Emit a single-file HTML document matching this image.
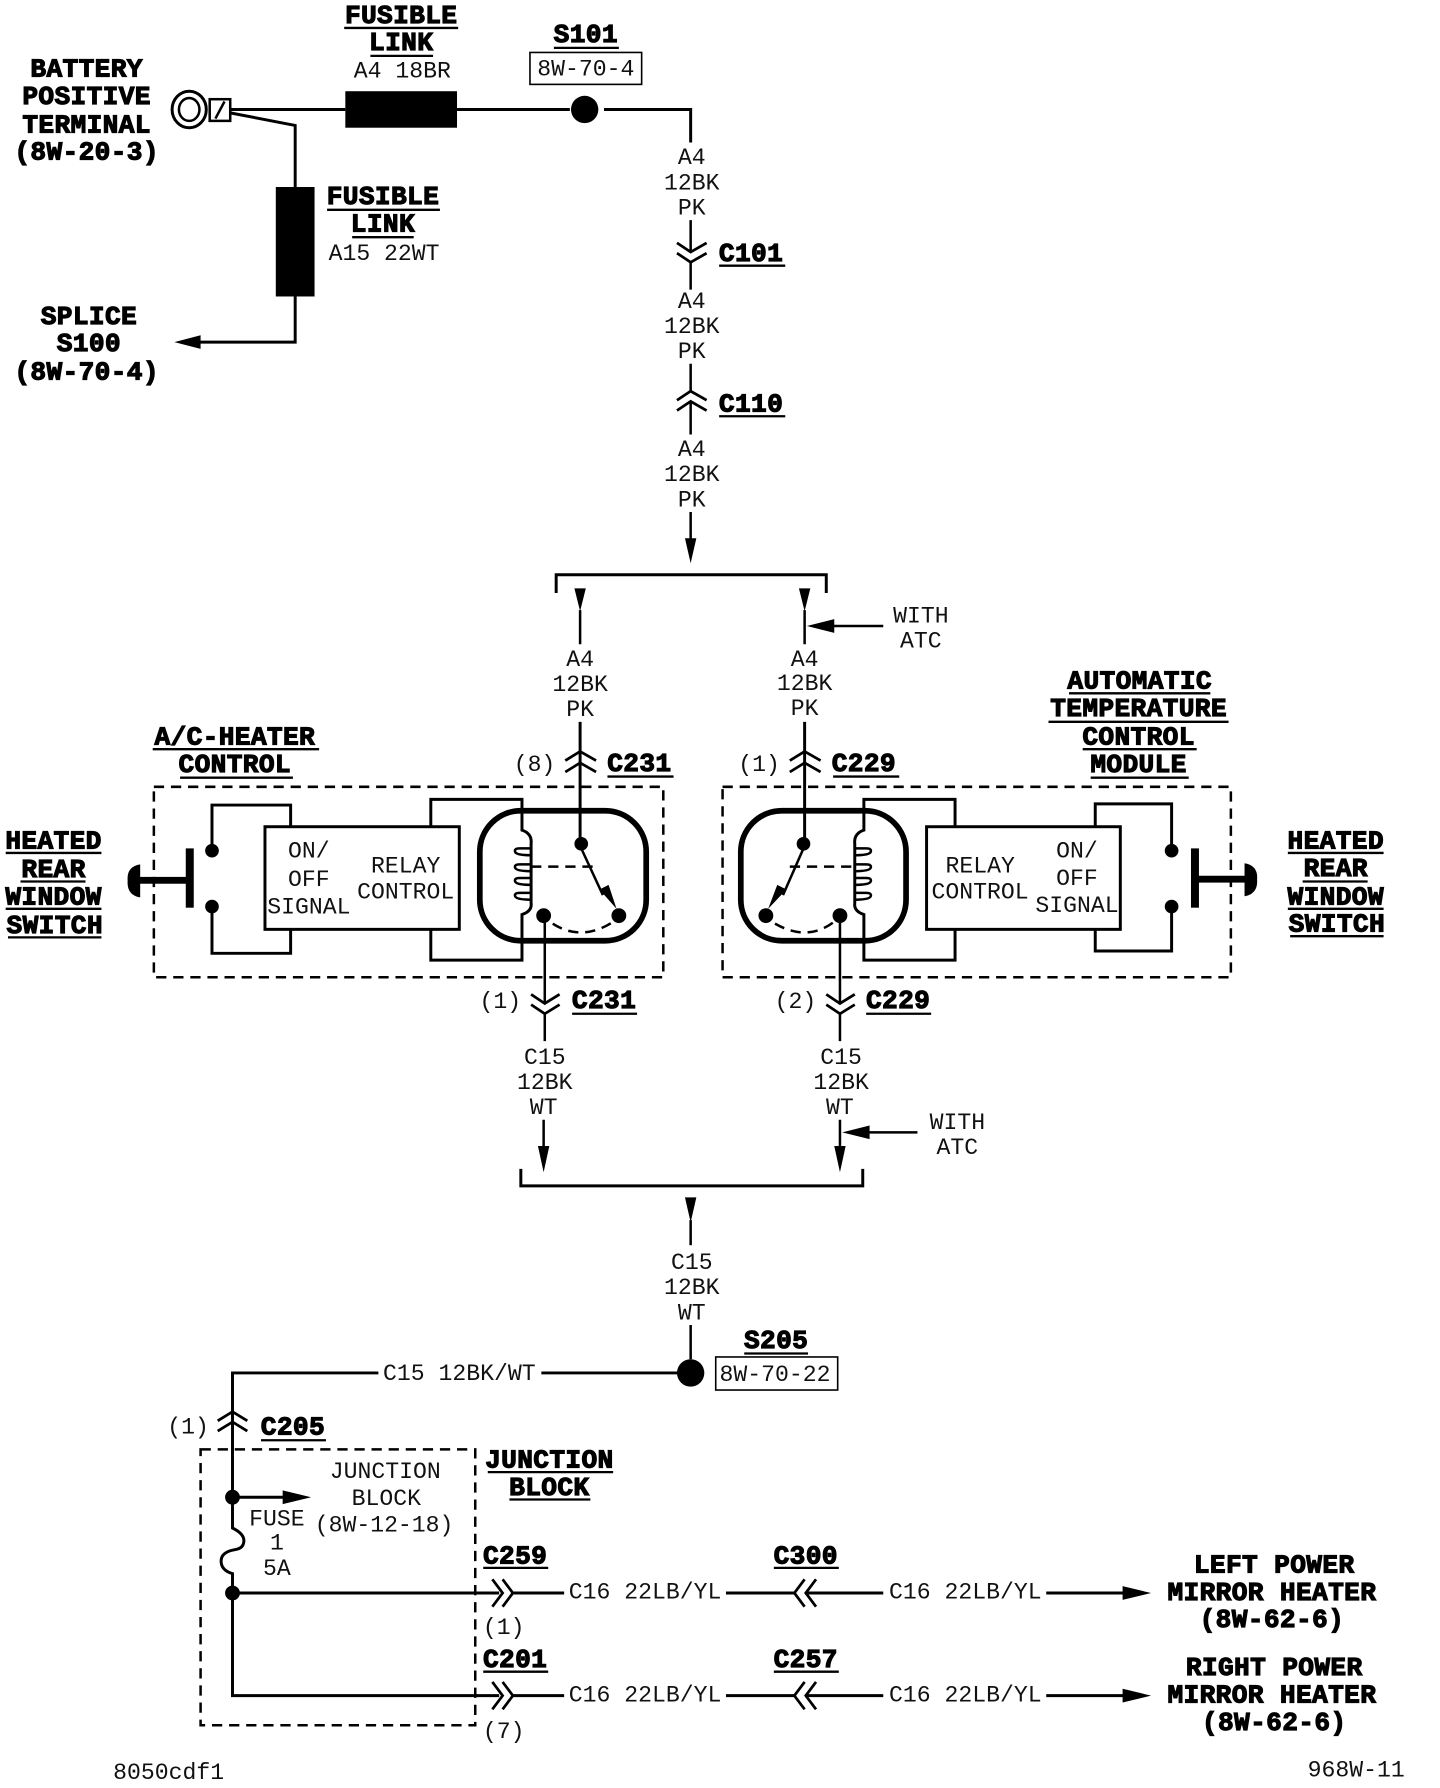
<!DOCTYPE html>
<html><head><meta charset="utf-8"><style>
html,body{margin:0;padding:0;background:#fff}
svg{display:block}
.t{font-family:"Liberation Mono",monospace;font-size:20.3px;text-anchor:middle;fill:#111;transform:translateY(-1px)}
.b{font-family:"Liberation Mono",monospace;font-weight:bold;font-size:23px;letter-spacing:.3px;text-anchor:middle;fill:#000;stroke:#000;stroke-width:1;transform:translateY(-1px)}
.w{fill:none;stroke:#000;stroke-width:2.2}
.h{fill:none;stroke:#000;stroke-width:2.6}
.u{stroke:#000;stroke-width:2}
.d{fill:none;stroke:#000;stroke-width:2.2;stroke-dasharray:9 6}
.c{fill:none;stroke:#000;stroke-width:2.4}
</style></head><body>
<svg width="1440" height="1788" viewBox="0 0 1263.5 1568" preserveAspectRatio="none" xmlns="http://www.w3.org/2000/svg">
<!-- top -->
<ellipse cx="166" cy="96" rx="15" ry="16" class="h"/><ellipse cx="166" cy="96" rx="9" ry="10" class="w"/>
<rect x="184" y="87" width="18" height="19" class="w"/><path d="M189 104L197 89" class="w"/>
<rect x="303" y="80" width="98" height="32" fill="#000"/>
<path d="M202 96H303M401 96H500M530 96H606V125" class="h"/>
<circle cx="513" cy="96" r="12" fill="#000"/>
<path d="M202 99L259 110V164M259 260V300H172" class="h"/>
<rect x="242" y="164" width="34" height="96" fill="#000"/>
<path d="M153 300L176 294V306Z" fill="#000"/>
<text class="b" x="76" y="68">BATTERY</text><text class="b" x="76" y="92">POSITIVE</text><text class="b" x="76" y="117">TERMINAL</text><text class="b" x="76" y="141">(8W-20-3)</text>
<text class="b" x="78" y="285">SPLICE</text><text class="b" x="78" y="309">S100</text><text class="b" x="76" y="334">(8W-70-4)</text>
<text class="b" x="352" y="21">FUSIBLE</text><line class="u" x1="302" x2="402" y1="24.500" y2="24.500"/><text class="b" x="352" y="45">LINK</text><line class="u" x1="325" x2="380" y1="49" y2="49"/><text class="t" x="353" y="69">A4 18BR</text>
<text class="b" x="514" y="38">S101</text><line class="u" x1="486" x2="543" y1="42" y2="42"/>
<rect x="465" y="46" width="98" height="28" fill="none" stroke="#000" stroke-width="1.4"/><text class="t" x="514" y="67">8W-70-4</text>
<text class="b" x="336" y="180">FUSIBLE</text><line class="u" x1="287" x2="386" y1="184" y2="184"/><text class="b" x="336" y="204">LINK</text><line class="u" x1="309" x2="363" y1="208" y2="208"/><text class="t" x="337" y="229">A15 22WT</text>
<!-- main vertical -->
<text class="t" x="607" y="145">A4</text><text class="t" x="607" y="167">12BK</text><text class="t" x="607" y="189">PK</text>
<path d="M606 193V221M606 230V254" class="w"/>
<path d="M594 213L606 221L620 213M594 222L606 230L620 222" class="c"/>
<text class="b" x="659" y="230">C101</text><line class="u" x1="631" x2="689" y1="233" y2="233"/>
<text class="t" x="607" y="271">A4</text><text class="t" x="607" y="293">12BK</text><text class="t" x="607" y="315">PK</text>
<path d="M606 319V343M606 352V381" class="w"/>
<path d="M594 351L606 343L620 351M594 360L606 352L620 360" class="c"/>
<text class="b" x="659" y="362">C110</text><line class="u" x1="631" x2="689" y1="365" y2="365"/>
<text class="t" x="607" y="401">A4</text><text class="t" x="607" y="423">12BK</text><text class="t" x="607" y="445">PK</text>
<path d="M606 449V475" class="w"/><path d="M601 472H611L606 494Z" fill="#000"/>
<path d="M488 520V504H725V520" class="h"/>
<path d="M509 535V565M706 535V565" class="w"/>
<path d="M504 516H514L509 536ZM701 516H711L706 536Z" fill="#000"/>
<path d="M775 549H725" class="w"/><path d="M708 549L732 543V555Z" fill="#000"/>
<text class="t" x="808" y="547">WITH</text><text class="t" x="808" y="569">ATC</text>
<text class="t" x="509" y="585">A4</text><text class="t" x="509" y="607">12BK</text><text class="t" x="509" y="629">PK</text>
<text class="t" x="706" y="585">A4</text><text class="t" x="706" y="606">12BK</text><text class="t" x="706" y="628">PK</text>
<!-- left module -->
<path d="M509 633V740" class="h"/>
<path d="M496 667L509 659L523 667M496 677L509 669L523 677" class="c"/>
<text class="t" x="469" y="677">(8)</text><text class="b" x="561" y="677">C231</text><line class="u" x1="533" x2="591" y1="681" y2="681"/>
<text class="b" x="206" y="654">A/C-HEATER</text><line class="u" x1="134" x2="280" y1="657" y2="657"/><text class="b" x="206" y="678">CONTROL</text><line class="u" x1="158" x2="257" y1="682" y2="682"/>
<rect x="135" y="690" width="447" height="167" class="d"/>
<path d="M186 745V706H255V725M255 815V836H186V795" class="h"/>
<path d="M378 725V701H458V728Q467 731 466 740V792Q467 799 458 802V842H378V815" class="h"/>
<rect x="232.500" y="725" width="170.500" height="90" class="h" fill="#fff"/>
<circle cx="186" cy="746" r="6" fill="#000"/><circle cx="186" cy="795" r="6" fill="#000"/>
<rect x="163" y="744" width="7" height="52" fill="#000"/><rect x="122" y="769" width="42" height="6" fill="#000"/>
<path d="M123 758Q111 760 112 772Q111 785 123 787Z" fill="#000"/>
<rect x="421" y="711" width="146" height="114" rx="36" fill="none" stroke="#000" stroke-width="5"/>
<path d="M466 744H456Q451 744 452 747Q453 750 466 750M466 758H456Q451 758 452 761Q453 764 466 764M466 770H456Q451 770 452 773Q453 776 466 776M466 783H456Q451 783 452 786Q453 789 466 789" class="w"/>
<path d="M466 760H520" class="d" stroke-dasharray="7 5"/>
<circle cx="510" cy="740" r="6" fill="#000"/><circle cx="543" cy="803" r="6.500" fill="#000"/><circle cx="477" cy="803" r="6.500" fill="#000"/>
<path d="M510 744L529 785" class="w"/><path d="M526 780L534 776L541 797Z" fill="#000"/>
<path d="M485 810Q510 826 537 809" class="d" stroke-dasharray="8 6"/>
<path d="M478 803V880M478 889V913" class="w"/>
<path d="M466 872L478 880L491 872M466 881L478 889L491 881" class="c"/>
<text class="t" x="439" y="885">(1)</text><text class="b" x="530" y="885">C231</text><line class="u" x1="502" x2="559" y1="889" y2="889"/>
<text class="t" x="271" y="753">ON/</text><text class="t" x="271" y="778">OFF</text><text class="t" x="271" y="802">SIGNAL</text>
<text class="t" x="356" y="766">RELAY</text><text class="t" x="356" y="789">CONTROL</text>
<text class="b" x="47" y="745">HEATED</text><line class="u" x1="5" x2="89" y1="748" y2="748"/><text class="b" x="47" y="770">REAR</text><line class="u" x1="18" x2="75" y1="773" y2="773"/><text class="b" x="47" y="794">WINDOW</text><line class="u" x1="5" x2="89" y1="797" y2="797"/><text class="b" x="48" y="819">SWITCH</text><line class="u" x1="7" x2="89" y1="822" y2="822"/>
<!-- right module -->
<path d="M706 633V740" class="h"/>
<path d="M693 667L706 659L720 667M693 677L706 669L720 677" class="c"/>
<text class="t" x="666" y="677">(1)</text><text class="b" x="758" y="677">C229</text><line class="u" x1="731" x2="789" y1="681" y2="681"/>
<text class="b" x="1000" y="605">AUTOMATIC</text><line class="u" x1="938" x2="1062" y1="608" y2="608"/><text class="b" x="999" y="629">TEMPERATURE</text><line class="u" x1="920" x2="1078" y1="633" y2="633"/><text class="b" x="999" y="654">CONTROL</text><line class="u" x1="950" x2="1050" y1="657" y2="657"/><text class="b" x="999" y="678">MODULE</text><line class="u" x1="957" x2="1043" y1="682" y2="682"/>
<rect x="634" y="690" width="446" height="167" class="d"/>
<path d="M1028 745V705H961V725M961 815V834H1028V795" class="h"/>
<path d="M838 725V701H758V728Q749 731 750 740V792Q749 799 758 802V842H838V815" class="h"/>
<rect x="813" y="725" width="170" height="90" class="h" fill="#fff"/>
<circle cx="1028" cy="746" r="6" fill="#000"/><circle cx="1028" cy="795" r="6" fill="#000"/>
<rect x="1045" y="744" width="7" height="52" fill="#000"/><rect x="1051" y="768" width="42" height="6" fill="#000"/>
<path d="M1092 757Q1104 759 1103 771Q1104 784 1092 786Z" fill="#000"/>
<rect x="650" y="711" width="145" height="114" rx="36" fill="none" stroke="#000" stroke-width="5"/>
<path d="M750 744H760Q765 744 764 747Q763 750 750 750M750 758H760Q765 758 764 761Q763 764 750 764M750 770H760Q765 770 764 773Q763 776 750 776M750 783H760Q765 783 764 786Q763 789 750 789" class="w"/>
<path d="M693 760H750" class="d" stroke-dasharray="7 5"/>
<circle cx="705" cy="740" r="6" fill="#000"/><circle cx="672" cy="803" r="6.500" fill="#000"/><circle cx="737" cy="803" r="6.500" fill="#000"/>
<path d="M705 744L687 785" class="w"/><path d="M682 776L690 780L674 797Z" fill="#000"/>
<path d="M680 810Q708 826 731 809" class="d" stroke-dasharray="8 6"/>
<path d="M737 803V880M737 889V913" class="w"/>
<path d="M725 872L737 880L750 872M725 881L737 889L750 881" class="c"/>
<text class="t" x="698" y="885">(2)</text><text class="b" x="788" y="885">C229</text><line class="u" x1="760" x2="817" y1="889" y2="889"/>
<text class="t" x="860" y="766">RELAY</text><text class="t" x="860" y="789">CONTROL</text>
<text class="t" x="945" y="753">ON/</text><text class="t" x="945" y="777">OFF</text><text class="t" x="945" y="801">SIGNAL</text>
<text class="b" x="1172" y="745">HEATED</text><line class="u" x1="1130" x2="1214" y1="748" y2="748"/><text class="b" x="1172" y="769">REAR</text><line class="u" x1="1143" x2="1200" y1="773" y2="773"/><text class="b" x="1172" y="794">WINDOW</text><line class="u" x1="1130" x2="1214" y1="797" y2="797"/><text class="b" x="1173" y="818">SWITCH</text><line class="u" x1="1132" x2="1214" y1="821" y2="821"/>
<!-- C15 -->
<text class="t" x="478" y="934">C15</text><text class="t" x="478" y="956">12BK</text><text class="t" x="477" y="978">WT</text>
<text class="t" x="738" y="934">C15</text><text class="t" x="738" y="956">12BK</text><text class="t" x="737" y="978">WT</text>
<path d="M477 982V1008M737 982V1008" class="w"/>
<path d="M472 1005H482L477 1028ZM732 1005H742L737 1028Z" fill="#000"/>
<path d="M805 993H755" class="w"/><path d="M739 993L763 987V999Z" fill="#000"/>
<text class="t" x="840" y="991">WITH</text><text class="t" x="840" y="1013">ATC</text>
<path d="M457 1025V1040H757V1025" class="h"/>
<path d="M601 1050H611L606 1072Z" fill="#000"/><path d="M606 1070V1092" class="w"/>
<text class="t" x="607" y="1114">C15</text><text class="t" x="607" y="1136">12BK</text><text class="t" x="607" y="1158">WT</text>
<path d="M606 1162V1192" class="w"/>
<circle cx="606" cy="1204" r="12" fill="#000"/>
<text class="b" x="681" y="1183">S205</text><line class="u" x1="653" x2="709" y1="1187" y2="1187"/>
<rect x="628" y="1190" width="107" height="29" fill="none" stroke="#000" stroke-width="1.4"/><text class="t" x="680" y="1212">8W-70-22</text>
<path d="M204 1247V1204H332M475 1204H595" class="h"/>
<text class="t" x="403" y="1211">C15 12BK/WT</text>
<path d="M191 1246L204 1238L217 1246M191 1255L204 1247L217 1255" class="c"/>
<text class="t" x="165" y="1258">(1)</text><text class="b" x="257" y="1259">C205</text><line class="u" x1="229" x2="286" y1="1263" y2="1263"/>
<rect x="176" y="1271" width="241" height="242" class="d"/>
<path d="M204 1247V1340Q214 1345 214 1351Q214 1358 206 1359Q194 1361 194 1369Q194 1377 204 1380V1487H438M204 1397H438" class="h"/>
<circle cx="204" cy="1313" r="6.500" fill="#000"/><circle cx="204" cy="1397" r="6.500" fill="#000"/>
<path d="M204 1313H250" class="h"/><path d="M248 1307L273 1313L248 1319Z" fill="#000"/>
<text class="t" x="338" y="1297">JUNCTION</text><text class="t" x="339" y="1321">BLOCK</text><text class="t" x="337" y="1344">(8W-12-18)</text>
<text class="t" x="243" y="1339">FUSE</text><text class="t" x="243" y="1360">1</text><text class="t" x="243" y="1382">5A</text>
<text class="b" x="482" y="1288">JUNCTION</text><line class="u" x1="428" x2="538" y1="1291" y2="1291"/><text class="b" x="482" y="1312">BLOCK</text><line class="u" x1="447" x2="518" y1="1315" y2="1315"/>
<text class="b" x="452" y="1372">C259</text><line class="u" x1="424" x2="481" y1="1375" y2="1375"/>
<text class="b" x="452" y="1463">C201</text><line class="u" x1="424" x2="481" y1="1466" y2="1466"/>
<text class="t" x="442" y="1434">(1)</text><text class="t" x="442" y="1525">(7)</text>
<path d="M432 1385L441 1397L432 1409M441 1385L450 1397L441 1409M432 1475L441 1487L432 1499M441 1475L450 1487L441 1499" class="c"/>
<path d="M450 1397H495M637 1397H698M708 1397H775M918 1397H988M450 1487H495M637 1487H698M708 1487H775M918 1487H988" class="h"/>
<path d="M706 1385L697 1397L706 1409M716 1385L707 1397L716 1409M706 1475L697 1487L706 1499M716 1475L707 1487L716 1499" class="c"/>
<text class="t" x="566" y="1403">C16 22LB/YL</text><text class="t" x="847" y="1403">C16 22LB/YL</text>
<text class="t" x="566" y="1493">C16 22LB/YL</text><text class="t" x="847" y="1493">C16 22LB/YL</text>
<text class="b" x="707" y="1372">C300</text><line class="u" x1="679" x2="736" y1="1375" y2="1375"/>
<text class="b" x="707" y="1463">C257</text><line class="u" x1="679" x2="736" y1="1466" y2="1466"/>
<path d="M1010 1397L985 1391V1403ZM1010 1487L985 1481V1493Z" fill="#000"/>
<text class="b" x="1118" y="1380">LEFT POWER</text><text class="b" x="1116" y="1404">MIRROR HEATER</text><text class="b" x="1116" y="1428">(8W-62-6)</text>
<text class="b" x="1118" y="1470">RIGHT POWER</text><text class="b" x="1116" y="1494">MIRROR HEATER</text><text class="b" x="1118" y="1518">(8W-62-6)</text>
<text class="t" x="148" y="1561">8050cdf1</text><text class="t" x="1190" y="1559">968W-11</text>
</svg>
</body></html>
